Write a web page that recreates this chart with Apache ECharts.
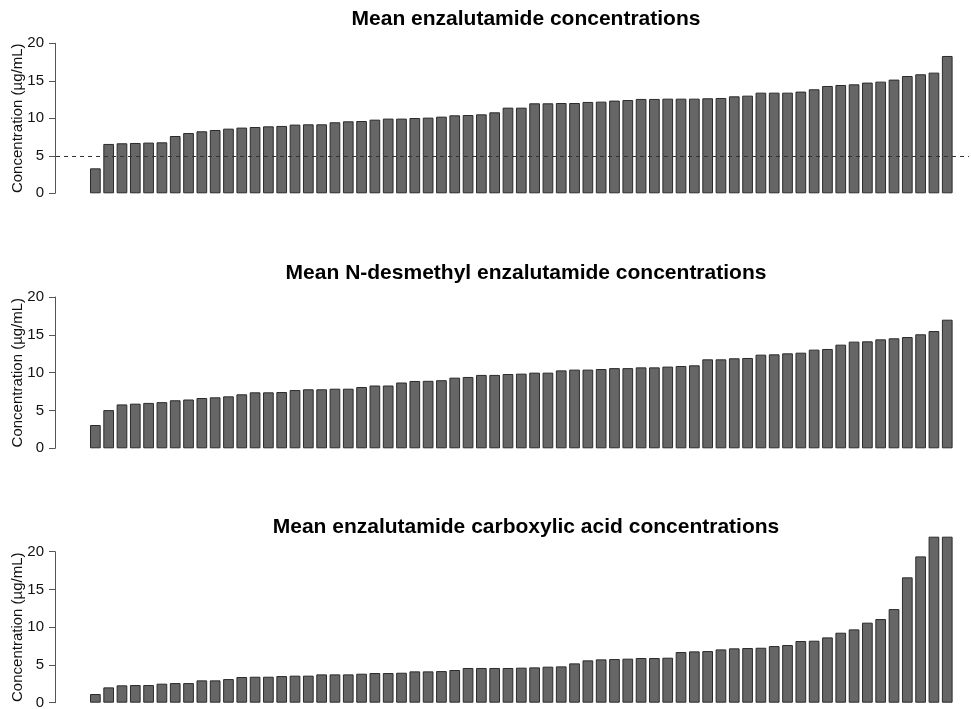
<!DOCTYPE html>
<html>
<head>
<meta charset="utf-8">
<script src="https://cdn.jsdelivr.net/npm/echarts@6/dist/echarts.min.js"></script>
<style>
html,body{margin:0;padding:0;background:#fff;}
#chart{width:971px;height:709px;}
</style>
</head>
<body>
<div id="chart"></div>
<script>
const titles = [
  "Mean enzalutamide concentrations",
  "Mean N-desmethyl enzalutamide concentrations",
  "Mean enzalutamide carboxylic acid concentrations"
];
const yAxisName = "Concentration (\u00b5g/mL)";
const yTicks = [0, 5, 10, 15, 20];
const threshold = 5;

const enzalutamide = [3.33, 6.58, 6.67, 6.71, 6.76, 6.8, 7.64, 8.04, 8.27, 8.44,
  8.62, 8.76, 8.84, 8.93, 8.98, 9.16, 9.2, 9.2, 9.47, 9.6,
  9.64, 9.82, 9.96, 9.96, 10.04, 10.09, 10.22, 10.4, 10.44, 10.53, 10.8,
  11.42, 11.42, 12.0, 12.0, 12.04, 12.04, 12.18, 12.22, 12.36, 12.44,
  12.58, 12.58, 12.62, 12.62, 12.62, 12.67, 12.71, 12.93, 13.02, 13.42,
  13.42, 13.42, 13.56, 13.87, 14.31, 14.44, 14.53, 14.76, 14.89, 15.16,
  15.64, 15.87, 16.09, 18.31];

const nDesmethyl = [3.08, 5.05, 5.8, 5.9, 6.0, 6.1, 6.35, 6.45, 6.65, 6.74, 6.87,
  7.14, 7.4, 7.4, 7.44, 7.7, 7.8, 7.8, 7.88, 7.88, 8.1,
  8.3, 8.3, 8.7, 8.9, 8.92, 9.0, 9.34, 9.43, 9.7, 9.7,
  9.82, 9.87, 10.0, 10.0, 10.3, 10.4, 10.4, 10.48, 10.6, 10.6,
  10.7, 10.7, 10.8, 10.88, 10.97, 11.76, 11.76, 11.9, 11.94, 12.38,
  12.42, 12.55, 12.64, 13.04, 13.13, 13.7, 14.1, 14.14, 14.4, 14.54,
  14.71, 15.07, 15.5, 17.0];

const carboxylicAcid = [1.15, 2.03, 2.3, 2.34, 2.34, 2.52, 2.6, 2.6, 2.96, 2.96,
  3.13, 3.4, 3.44, 3.44, 3.53, 3.58, 3.58, 3.75, 3.75, 3.75,
  3.84, 3.93, 3.93, 3.97, 4.15, 4.15, 4.19, 4.33, 4.6, 4.6, 4.6,
  4.6, 4.64, 4.68, 4.77, 4.81, 5.21, 5.61, 5.74, 5.78, 5.83,
  5.92, 5.92, 5.96, 6.71, 6.8, 6.84, 7.06, 7.2, 7.24, 7.28,
  7.5, 7.64, 8.17, 8.21, 8.65, 9.27, 9.71, 10.6, 11.08, 12.4,
  16.6, 19.38, 21.99, 21.99];

// patient rank (category) for each bar
const ranks = enzalutamide.map((_, i) => String(i + 1));

const panels = [enzalutamide, nDesmethyl, carboxylicAcid];

const FONT = "Liberation Sans, Arial, Helvetica, sans-serif";
const gridTops = [43.3, 297, 551.7];
const gridHeights = [150, 151.3, 151];
const titleTops = [4, 258, 512];
const barsLeft = 88.7, barsWidth = 865.2;   // bar band region
const plotLeft = 56, plotWidth = 913;       // full plot region (reference line)
const axisX = 55;

const chart = echarts.init(document.getElementById('chart'), null, {renderer: 'canvas'});

const grids = panels.map((_, i) => ({
  left: barsLeft, width: barsWidth, top: gridTops[i], height: gridHeights[i],
  containLabel: false, outerBoundsMode: 'none'
}));
// overlay grid spanning panel 1's full plot region, for the dashed reference line
grids.push({left: plotLeft, width: plotWidth, top: gridTops[0], height: gridHeights[0],
  containLabel: false, outerBoundsMode: 'none'});

const xAxes = panels.map((_, i) => ({
  type: 'category', gridIndex: i, data: ranks, boundaryGap: true, show: false
}));
xAxes.push({type: 'value', gridIndex: 3, min: 0, max: 1, show: false});

const yAxes = panels.map((_, i) => ({
  type: 'value', gridIndex: i, min: yTicks[0], max: yTicks[yTicks.length - 1], interval: 5,
  offset: barsLeft - axisX,
  name: yAxisName,
  nameLocation: 'middle',
  nameGap: 30,
  nameMoveOverlap: false,
  nameTextStyle: {fontFamily: FONT, fontSize: 15, color: '#111'},
  axisLine: {show: true, onZero: false, lineStyle: {color: '#555', width: 1}},
  axisTick: {show: true, length: 6, lineStyle: {color: '#555', width: 1}},
  axisLabel: {fontFamily: FONT, fontSize: 15, color: '#111', margin: 11},
  splitLine: {show: false}
}));
yAxes.push({type: 'value', gridIndex: 3, min: yTicks[0], max: yTicks[yTicks.length - 1], show: false});

const series = panels.map((vals, i) => ({
  type: 'bar',
  xAxisIndex: i,
  yAxisIndex: i,
  data: vals,
  barWidth: 10.7,
  clip: false,
  itemStyle: {color: '#666666', borderColor: '#2b2b2b', borderWidth: 1}
}));
series.push({
  type: 'line',
  xAxisIndex: 3,
  yAxisIndex: 3,
  data: [],
  z: 5,
  markLine: {
    silent: true,
    symbol: ['none', 'none'],
    label: {show: false},
    lineStyle: {color: '#333', width: 1, type: [4, 4]},
    data: [{yAxis: threshold}]
  }
});

const option = {
  animation: false,
  backgroundColor: '#ffffff',
  title: titles.map((t, i) => ({
    text: t,
    left: 521,
    top: titleTops[i],
    textAlign: 'center',
    textStyle: {fontFamily: FONT, fontWeight: 'bold', fontSize: 21, color: '#000'}
  })),
  grid: grids,
  xAxis: xAxes,
  yAxis: yAxes,
  series: series
};

chart.setOption(option);
</script>
</body>
</html>
